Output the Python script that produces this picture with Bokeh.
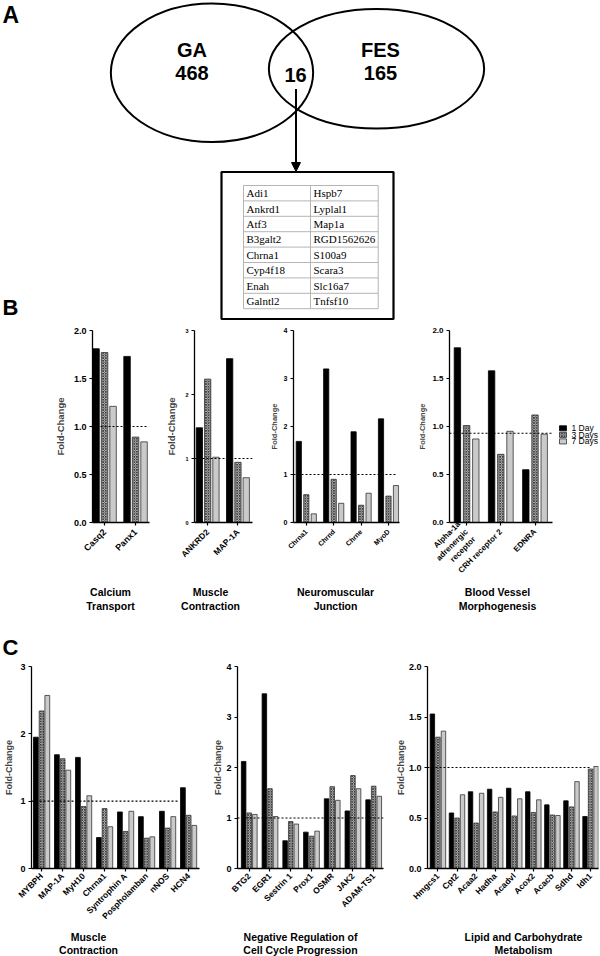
import math
from bokeh.plotting import figure
from bokeh.layouts import column, row
from bokeh.models import (Range1d, FixedTicker, PrintfTickFormatter, Arrow, NormalHead)
from bokeh.core.properties import value
from bokeh.embed import file_html
from bokeh.resources import INLINE

SANS = "Liberation Sans"
SERIF = "Liberation Serif"

# ---------------- data ----------------
venn_sets = ["GA", "FES"]
venn_counts = [468, 165]
venn_overlap = 16
shared_left = ["Adi1", "Ankrd1", "Atf3", "B3galt2", "Chrna1", "Cyp4f18", "Enah", "Galntl2"]
shared_right = ["Hspb7", "Lyplal1", "Map1a", "RGD1562626", "S100a9", "Scara3", "Slc16a7", "Tnfsf10"]

series_labels = ["1 Day", "3 Days", "7 Days"]

calcium_cats = ["Casq2", "Panx1"]
calcium_d1 = [1.81, 1.73]
calcium_d3 = [1.77, 0.89]
calcium_d7 = [1.21, 0.84]

musc_b_cats = ["ANKRD2", "MAP-1A"]
musc_b_d1 = [1.48, 2.56]
musc_b_d3 = [2.24, 0.94]
musc_b_d7 = [1.02, 0.70]

nmj_cats = ["Chrna1", "Chrnd", "Chrne", "MyoD"]
nmj_d1 = [1.69, 3.20, 1.89, 2.16]
nmj_d3 = [0.58, 0.90, 0.36, 0.55]
nmj_d7 = [0.18, 0.40, 0.61, 0.77]

vessel_cats = ["Alpha-1a\nadrenergic\nreceptor", "CRH receptor 2", "EDNRA"]
vessel_d1 = [1.82, 1.58, 0.55]
vessel_d3 = [1.01, 0.71, 1.12]
vessel_d7 = [0.87, 0.95, 0.92]
vessel_ref = 0.93

musc_c_cats = ["MYBPH", "MAP-1A", "MyH10", "Chrna1", "Syntrophin A", "Pospholamban", "nNOS", "HCN4"]
musc_c_d1 = [1.95, 1.69, 1.65, 0.46, 0.84, 0.77, 0.85, 1.20]
musc_c_d3 = [2.34, 1.63, 0.92, 0.89, 0.55, 0.45, 0.60, 0.79]
musc_c_d7 = [2.57, 1.46, 1.08, 0.62, 0.85, 0.47, 0.77, 0.64]

cycle_cats = ["BTG2", "EGR1", "Sestrin 1", "Prox1", "OSMR", "JAK2", "ADAM-TS1"]
cycle_d1 = [2.12, 3.46, 0.55, 0.72, 1.38, 1.14, 1.36]
cycle_d3 = [1.10, 1.58, 0.93, 0.64, 1.62, 1.84, 1.63]
cycle_d7 = [1.07, 1.03, 0.88, 0.74, 1.35, 1.58, 1.43]

lipid_cats = ["Hmgcs1", "Cpt2", "Acaa2", "Hadha", "Acadvl", "Acox2", "Acacb", "Sdhd", "Idh1"]
lipid_d1 = [1.53, 0.55, 0.76, 0.785, 0.795, 0.76, 0.63, 0.67, 0.515]
lipid_d3 = [1.30, 0.50, 0.45, 0.56, 0.52, 0.555, 0.53, 0.61, 0.985]
lipid_d7 = [1.36, 0.73, 0.745, 0.705, 0.69, 0.68, 0.525, 0.86, 1.01]

b_titles = [["Calcium", "Transport"], ["Muscle", "Contraction"],
            ["Neuromuscular", "Junction"], ["Blood Vessel", "Morphogenesis"]]
c_titles = [["Muscle", "Contraction"], ["Negative Regulation of", "Cell Cycle Progression"],
            ["Lipid and Carbohydrate", "Metabolism"]]

# ---------------- styles ----------------
STYLES = [
    dict(fill_color="black", line_color="black"),
    dict(fill_color="#d6d6d6", hatch_pattern="x", hatch_color="#3c3c3c",
         hatch_scale=2.6, hatch_weight=0.9, line_color="#333333"),
    dict(fill_color="#cacaca", line_color="#333333"),
]


def blank_fig(x0, y0, w, h):
    p = figure(width=w, height=h, x_range=Range1d(x0, x0 + w),
               y_range=Range1d(y0 + h, y0),
               output_backend="svg", toolbar_location=None,
               x_axis_type=None, y_axis_type=None,
               min_border_left=0, min_border_right=0,
               min_border_top=0, min_border_bottom=0)
    p.grid.visible = False
    p.outline_line_color = None
    return p


def bar_panel(cats, series, ymax, yticks, yfmt, fig_box, frame, c0, g, s, w,
              ref_level, ref_span, tick_fs, ylab_fs, ylab_standoff, cat_fs, cat_standoff):
    fx, fy, fw, fh = fig_box
    fl, ft, fr, fb = frame

    def X(px):
        return (px - c0) / g

    p = figure(width=fw, height=fh, x_range=Range1d(X(fl), X(fr)),
               y_range=Range1d(0, ymax), output_backend="svg",
               toolbar_location=None,
               min_border_left=fl - fx, min_border_right=fx + fw - fr,
               min_border_top=ft - fy, min_border_bottom=fy + fh - fb)
    p.grid.visible = False
    p.outline_line_color = None

    n = len(cats)
    for j, (vals, st) in enumerate(zip(series, STYLES)):
        xs = [i + (j - 1) * s / g for i in range(n)]
        p.vbar(x=xs, top=vals, bottom=0, width=w / g, line_width=0.8, **st)

    p.line([X(ref_span[0]), X(ref_span[1])], [ref_level, ref_level],
           line_dash="2 2", line_color="black", line_width=1.1)

    for ax in (p.xaxis[0], p.yaxis[0]):
        ax.axis_line_width = 1.3
        ax.axis_line_color = "black"
        ax.major_tick_line_width = 1.2
        ax.major_tick_line_color = "black"
        ax.major_tick_in = 0
        ax.major_tick_out = 3
        ax.minor_tick_line_color = None
        ax.major_label_text_font = SANS
        ax.major_label_text_font_style = "bold"
        ax.major_label_text_color = "black"

    p.xaxis.ticker = FixedTicker(ticks=list(range(n)))
    p.xaxis.major_label_overrides = {i: c for i, c in enumerate(cats)}
    p.xaxis.major_label_orientation = math.pi / 4
    p.xaxis.major_label_text_font_size = cat_fs
    p.xaxis.major_label_standoff = cat_standoff

    p.yaxis.ticker = FixedTicker(ticks=yticks)
    p.yaxis.formatter = PrintfTickFormatter(format=yfmt)
    p.yaxis.major_label_text_font_size = tick_fs
    p.yaxis.major_label_standoff = 3
    p.yaxis.axis_label = "Fold-Change"
    p.yaxis.axis_label_text_font = SANS
    p.yaxis.axis_label_text_font_style = "bold"
    p.yaxis.axis_label_text_font_size = ylab_fs
    p.yaxis.axis_label_standoff = ylab_standoff
    return p


# ---------------- panel A ----------------
pA = blank_fig(0, 0, 600, 320)

ell_x = [211.5, 376.0]
ell_y = [72.3, 68.3]
ell_w = [202.3, 215.3]
ell_h = [138.5, 119.5]
pA.ellipse(x=ell_x, y=ell_y, width=ell_w, height=ell_h, fill_color=None,
           line_color="black", line_width=2)

name_x = [191.5, 380.0]
for ys_, txt in ((49, venn_sets), (72, [str(c) for c in venn_counts])):
    pA.text(x=name_x, y=[ys_, ys_], text=txt, text_align="center",
            text_baseline="middle", text_font=value(SANS), text_font_style="bold",
            text_font_size="20px")
pA.text(x=[295], y=[74], text=[str(venn_overlap)], text_align="center",
        text_baseline="middle", text_font=value(SANS), text_font_style="bold",
        text_font_size="20px")

pA.add_layout(Arrow(end=NormalHead(size=9, fill_color="black", line_color="black"),
                    x_start=295.5, y_start=88.5, x_end=295.5, y_end=171,
                    line_color="black", line_width=2))

pA.quad(left=[221], right=[393], top=[171.5], bottom=[318.5], fill_color=None,
        line_color="black", line_width=2.2)
row_h = 15.4
t_top = 185.0
col_edges = [243, 310, 377.7]
nrows = len(shared_left)
pA.segment(x0=[col_edges[0]] * (nrows + 1), x1=[col_edges[2]] * (nrows + 1),
           y0=[t_top + row_h * k for k in range(nrows + 1)],
           y1=[t_top + row_h * k for k in range(nrows + 1)],
           line_color="#b5b5b5", line_width=1)
pA.segment(x0=col_edges, x1=col_edges, y0=[t_top] * 3, y1=[t_top + row_h * nrows] * 3,
           line_color="#b5b5b5", line_width=1)
ys = [t_top + row_h * (k + 0.5) for k in range(nrows)]
pA.text(x=[col_edges[0] + 3] * nrows, y=ys, text=shared_left, text_align="left",
        text_baseline="middle", text_font=value(SERIF), text_font_size="11px")
pA.text(x=[col_edges[1] + 3] * nrows, y=ys, text=shared_right, text_align="left",
        text_baseline="middle", text_font=value(SERIF), text_font_size="11px")

pA.text(x=[2], y=[1], text=["A"], text_align="left", text_baseline="top",
        text_font=value(SANS), text_font_style="bold", text_font_size="23px")
pA.text(x=[2], y=[294], text=["B"], text_align="left", text_baseline="top",
        text_font=value(SANS), text_font_style="bold", text_font_size="22px")

# ---------------- panel B ----------------
BY, BH = 320, 264
b1 = bar_panel(calcium_cats, [calcium_d1, calcium_d3, calcium_d7], 2.0,
               [0, 0.5, 1.0, 1.5, 2.0], "%.1f", (0, BY, 160, BH), (92, 325, 149, 526),
               104.05, 31.0, 8.5, 6.5, 1.0, (92, 148), "9px", "9.5px", 5, "9px", 5)
b2 = bar_panel(musc_b_cats, [musc_b_d1, musc_b_d3, musc_b_d7], 3.0,
               [0, 1, 2, 3], "%d", (160, BY, 102, BH), (194, 325, 252, 526),
               207.15, 30.3, 8.3, 6.3, 1.0, (194, 252), "5.5px", "9.5px", 5, "8.5px", 5)
b3 = bar_panel(nmj_cats, [nmj_d1, nmj_d3, nmj_d7], 4.0,
               [0, 1, 2, 3, 4], "%d", (262, BY, 148, BH), (293, 330, 399, 522),
               305.8, 27.4, 7.5, 5.2, 1.0, (293, 397), "7px", "7.5px", 2, "7px", 5)
b4 = bar_panel(vessel_cats, [vessel_d1, vessel_d3, vessel_d7], 2.0,
               [0, 0.5, 1.0, 1.5, 2.0], "%.1f", (410, BY, 145, BH), (449, 329, 552, 526),
               466.1, 34.2, 9.2, 6.4, vessel_ref, (449, 552), "8px", "7.5px", 2, "8px", 5)

# legend strip to the right of the last B chart
lg = blank_fig(555, BY, 45, BH)
leg_y = [454.5, 463.5, 472.5]
for k in range(3):
    st = dict(STYLES[k])
    lg.quad(left=[559], right=[566], top=[leg_y[k] - 3.5], bottom=[leg_y[k] + 3.5],
            line_width=0.8, **st)
lg.text(x=[571] * 3, y=leg_y, text=series_labels, text_align="left",
        text_baseline="middle", text_font=value(SANS), text_font_size="8.5px")

# strip with B group titles and the "C" letter
sB = blank_fig(0, 584, 600, 76)
b_title_x = [110, 210, 335, 497]
for k in range(2):
    sB.text(x=b_title_x, y=[591 + 14 * k] * 4, text=[t[k] for t in b_titles],
            text_align="center", text_baseline="middle", text_font=value(SANS),
            text_font_style="bold", text_font_size="10.5px")
sB.text(x=[2], y=[634], text=["C"], text_align="left", text_baseline="top",
        text_font=value(SANS), text_font_style="bold", text_font_size="22px")

# ---------------- panel C ----------------
CY, CH = 660, 269
CT, CB = 666, 868
c1 = bar_panel(musc_c_cats, [musc_c_d1, musc_c_d3, musc_c_d7], 3.0,
               [0, 1, 2, 3], "%d", (0, CY, 210, CH), (31, CT, 199, CB),
               41.1, 21.0, 5.7, 4.8, 1.0, (31, 179), "9px", "9px", 3, "8.5px", 3)
c2 = bar_panel(cycle_cats, [cycle_d1, cycle_d3, cycle_d7], 4.0,
               [0, 1, 2, 3, 4], "%d", (210, CY, 182, CH), (232, CT, 383, CB),
               244.15, 21.45, 5.8, 4.7, 1.0, (232, 383), "9px", "9px", 0, "8.5px", 3)
c3 = bar_panel(lipid_cats, [lipid_d1, lipid_d3, lipid_d7], 2.0,
               [0, 0.5, 1.0, 1.5, 2.0], "%.1f", (392, CY, 208, CH), (425, CT, 598, CB),
               435.55, 19.3, 5.6, 4.5, 1.0, (425, 590), "9px", "9px", 0, "8.5px", 3)

sC = blank_fig(0, 929, 600, 27)
c_title_x = [88, 300, 523]
for k in range(2):
    sC.text(x=c_title_x, y=[936.5 + 13 * k] * 3, text=[t[k] for t in c_titles],
            text_align="center", text_baseline="middle", text_font=value(SANS),
            text_font_style="bold", text_font_size="10.5px")

layout = column(pA, row(b1, b2, b3, b4, lg), sB, row(c1, c2, c3), sC)
open("out.html", "w").write(file_html(layout, INLINE))
